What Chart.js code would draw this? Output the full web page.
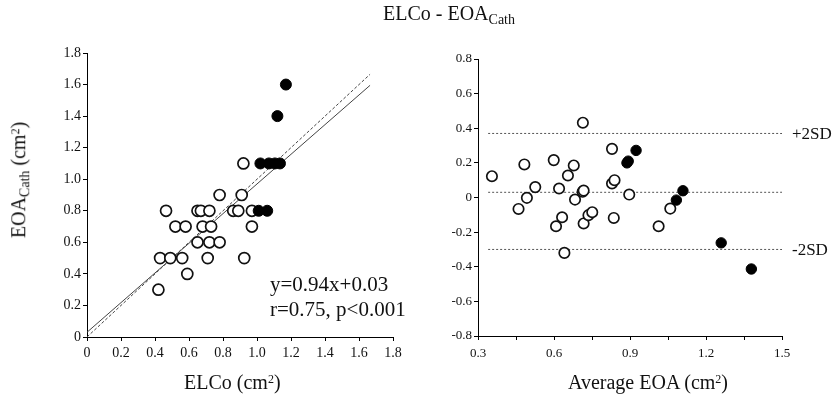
<!DOCTYPE html>
<html>
<head>
<meta charset="utf-8">
<script src="https://cdn.jsdelivr.net/npm/chart.js@4.4.1/dist/chart.umd.min.js"></script>
<style>
  body { margin: 0; background: #fff; font-family: "Liberation Serif", "Times New Roman", serif; }
  #wrap { position: relative; width: 833px; height: 396px; overflow: hidden; }
  canvas { position: absolute; top: 0; }
  #leftChart { left: 0; }
  #rightChart { left: 420px; }
  .txt { position: absolute; color: #111; white-space: nowrap; }
  .txt sub { font-size: 0.7em; vertical-align: -0.25em; }
  .txt sup { font-size: 0.6em; vertical-align: 0.5em; line-height: 0; }
</style>
</head>
<body>
<div id="wrap">
  <canvas id="leftChart" width="420" height="396"></canvas>
  <canvas id="rightChart" width="413" height="396"></canvas>
  <div class="txt" style="left:383px; top:2px; font-size:20px;">ELCo - EOA<sub>Cath</sub></div>
  <div class="txt" style="left:20px; top:180px; font-size:20px; transform: translate(-50%,-50%) rotate(-90deg);">EOA<sub>Cath</sub> (cm<sup>2</sup>)</div>
  <div class="txt" style="left:184px; top:371px; font-size:20px;">ELCo (cm<sup>2</sup>)</div>
  <div class="txt" style="left:568px; top:371px; font-size:20px;">Average EOA (cm<sup>2</sup>)</div>
  <div class="txt" style="left:270px; top:272px; font-size:21px; line-height:25px;">y=0.94x+0.03<br>r=0.75, p&lt;0.001</div>
</div>
<script>
// left panel: ELCo vs EOA cath
var elcoOpen = [0.42, 0.43, 0.465, 0.49, 0.52, 0.56, 0.58, 0.59, 0.65, 0.65, 0.67, 0.68, 0.71, 0.72, 0.72, 0.73, 0.78, 0.78, 0.86, 0.89, 0.91, 0.92, 0.925, 0.97, 0.97];
var eoaOpen  = [0.3, 0.5, 0.8, 0.5, 0.7, 0.5, 0.7, 0.4, 0.8, 0.6, 0.8, 0.7, 0.5, 0.8, 0.6, 0.7, 0.9, 0.6, 0.8, 0.8, 0.9, 1.1, 0.5, 0.7, 0.8];
var elcoFilled = [1.01, 1.06, 1.02, 1.07, 1.105, 1.135, 1.12, 1.17];
var eoaFilled  = [0.8, 0.8, 1.1, 1.1, 1.1, 1.1, 1.4, 1.6];
var fitSlope = 0.94, fitIntercept = 0.03, lineEnd = 1.665;

// right panel: Bland-Altman
var avgOpen  = [0.355, 0.46, 0.483, 0.493, 0.526, 0.599, 0.608, 0.62, 0.632, 0.641, 0.655, 0.678, 0.683, 0.714, 0.713, 0.717, 0.717, 0.736, 0.751, 0.829, 0.829, 0.839, 0.836, 0.897, 1.013, 1.059];
var diffOpen = [0.123, -0.066, 0.191, -0.002, 0.06, 0.216, -0.166, 0.052, -0.114, -0.32, 0.127, 0.185, -0.012, 0.432, 0.033, 0.04, -0.15, -0.102, -0.085, 0.281, 0.081, 0.1, -0.118, 0.017, -0.166, -0.064];
var avgFilled  = [0.888, 0.893, 0.924, 1.083, 1.109, 1.26, 1.379];
var diffFilled = [0.2, 0.21, 0.272, -0.015, 0.039, -0.262, -0.413];
var meanDiff = 0.03, upperSD = 0.37, lowerSD = -0.30;
var limitStart = 0.34, limitEnd = 1.5;

function pts(xs, ys) { return xs.map((x, i) => ({ x: x, y: ys[i] })); }

function axisBase(size) {
  return {
    type: 'linear',
    grid: { display: true, drawOnChartArea: false, drawTicks: true, tickLength: 4, color: '#000' },
    border: { display: true, color: '#000', width: 1 },
    ticks: { color: '#111', font: { family: "Liberation Serif", size: size }, padding: 2 }
  };
}

var fmt1 = function(v) { return Math.abs(v) < 1e-9 ? '0' : v.toFixed(1); };

var leftX = axisBase(14);
leftX.min = 0; leftX.max = 1.8;
leftX.ticks.stepSize = 0.2; leftX.ticks.callback = fmt1; leftX.ticks.padding = 4;
leftX.afterFit = function(s) { s.height = 59; };
var leftY = axisBase(14);
leftY.min = 0; leftY.max = 1.8;
leftY.ticks.stepSize = 0.2; leftY.ticks.callback = fmt1;
leftY.afterFit = function(s) { s.width = 87; };

new Chart(document.getElementById('leftChart'), {
  type: 'scatter',
  data: {
    datasets: [
      { data: pts(elcoOpen, eoaOpen), pointRadius: 5.5, pointBorderWidth: 1.7, borderColor: '#111', backgroundColor: '#fff', order: 1 },
      { data: pts(elcoFilled, eoaFilled), pointRadius: 5.5, pointBorderWidth: 1, borderColor: '#000', backgroundColor: '#000', order: 0 },
      { type: 'line', data: [{ x: 0, y: 0 }, { x: lineEnd, y: lineEnd }], showLine: true, borderColor: '#444', borderWidth: 1, borderDash: [3, 2], pointRadius: 0, order: 2 },
      { type: 'line', data: [{ x: 0, y: fitIntercept }, { x: lineEnd, y: fitSlope * lineEnd + fitIntercept }], showLine: true, borderColor: '#444', borderWidth: 1, pointRadius: 0, order: 2 }
    ]
  },
  options: {
    responsive: false, animation: false, devicePixelRatio: 1,
    layout: { padding: { left: 0, right: 27, top: 53, bottom: 0 } },
    plugins: { legend: { display: false }, tooltip: { enabled: false } },
    scales: { x: leftX, y: leftY }
  }
});

var sdLabels = {
  id: 'sdLabels',
  afterDatasetsDraw: function(chart) {
    var ctx = chart.ctx, a = chart.chartArea, y = chart.scales.y;
    ctx.save();
    ctx.fillStyle = '#111';
    ctx.font = '17px "Liberation Serif"';
    ctx.textBaseline = 'middle';
    ctx.fillText('+2SD', a.right + 10, y.getPixelForValue(upperSD) + 1);
    ctx.fillText('-2SD', a.right + 10, y.getPixelForValue(lowerSD) + 1);
    ctx.restore();
  }
};

var rightX = axisBase(13);
rightX.min = 0.3; rightX.max = 1.5;
rightX.ticks.stepSize = 0.15; rightX.ticks.padding = 6;
rightX.ticks.autoSkip = false;
rightX.ticks.callback = function(v) { return Math.round(v / 0.15) % 2 === 0 ? v.toFixed(1) : ''; };
rightX.afterFit = function(s) { s.height = 60; };
var rightY = axisBase(13);
rightY.min = -0.8; rightY.max = 0.8;
rightY.ticks.stepSize = 0.2; rightY.ticks.callback = fmt1;
rightY.afterFit = function(s) { s.width = 58; };

function hline(val) {
  return { type: 'line', data: [{ x: limitStart, y: val }, { x: limitEnd, y: val }], showLine: true, borderColor: '#555', borderWidth: 1, borderDash: [2, 2], pointRadius: 0, order: 2 };
}

new Chart(document.getElementById('rightChart'), {
  type: 'scatter',
  data: {
    datasets: [
      { data: pts(avgOpen, diffOpen), pointRadius: 5.2, pointBorderWidth: 1.7, borderColor: '#111', backgroundColor: '#fff', order: 1 },
      { data: pts(avgFilled, diffFilled), pointRadius: 5.2, pointBorderWidth: 1, borderColor: '#000', backgroundColor: '#000', order: 0 },
      hline(upperSD), hline(meanDiff), hline(lowerSD)
    ]
  },
  options: {
    responsive: false, animation: false, devicePixelRatio: 1,
    layout: { padding: { left: 0, right: 51, top: 59, bottom: 0 } },
    plugins: { legend: { display: false }, tooltip: { enabled: false } },
    scales: { x: rightX, y: rightY }
  },
  plugins: [sdLabels]
});
</script>
</body>
</html>
